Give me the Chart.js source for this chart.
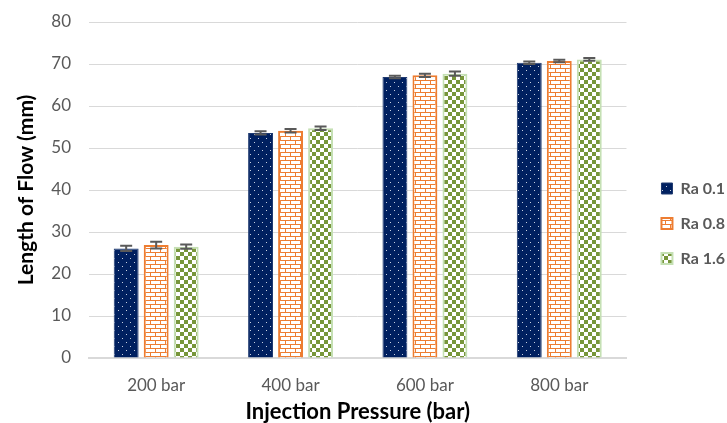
<!DOCTYPE html>
<html>
<head>
<meta charset="utf-8">
<script src="https://cdn.jsdelivr.net/npm/chart.js@4"></script>
<style>
  html, body { margin: 0; padding: 0; background: #fff; }
  #wrap { width: 727px; height: 423px; }
</style>
</head>
<body>
<div id="wrap"><canvas id="myChart"></canvas></div>
<script>
const categories = ['200 bar', '400 bar', '600 bar', '800 bar'];
const seriesNames = ['Ra 0.1', 'Ra 0.8', 'Ra 1.6'];
const ra01 = [26.1, 53.6, 66.9, 70.3];
const ra08 = [26.9, 54.1, 67.3, 70.7];
const ra16 = [26.5, 54.7, 67.7, 71.1];
const err01 = [0.6, 0.4, 0.3, 0.3];
const err08 = [0.8, 0.4, 0.4, 0.3];
const err16 = [0.5, 0.4, 0.5, 0.3];
const yTicks = [0, 10, 20, 30, 40, 50, 60, 70, 80];

const FONT = 'Lato, "Open Sans", sans-serif';

function makePattern(size, draw) {
  const c = document.createElement('canvas');
  c.width = size[0];
  c.height = size[1];
  const g = c.getContext('2d');
  draw(g);
  return g.createPattern(c, 'repeat');
}

// navy with small white dots
const dotPattern = makePattern([8, 8], g => {
  g.fillStyle = '#002060';
  g.fillRect(0, 0, 8, 8);
  g.fillStyle = '#c8d0e0';
  g.fillRect(2, 2, 1, 1);
  g.fillRect(6, 6, 1, 1);
});

// orange bricks
const brickPattern = makePattern([10, 8], g => {
  g.fillStyle = '#ffffff';
  g.fillRect(0, 0, 10, 8);
  g.fillStyle = '#ED7D31';
  g.fillRect(0, 0, 10, 1);
  g.fillRect(0, 4, 10, 1);
  g.fillRect(0, 0, 1, 4);
  g.fillRect(5, 4, 1, 4);
});

// green checker
const checkPattern = makePattern([8, 8], g => {
  g.fillStyle = '#ffffff';
  g.fillRect(0, 0, 8, 8);
  g.fillStyle = '#77963A';
  g.fillRect(0, 0, 4, 4);
  g.fillRect(4, 4, 4, 4);
});

const errorBars = {
  id: 'errorBars',
  afterDatasetsDraw(chart) {
    const ctx = chart.ctx;
    const y = chart.scales.y;
    ctx.save();
    ctx.strokeStyle = '#595959';
    ctx.lineWidth = 2;
    chart.data.datasets.forEach((ds, i) => {
      const meta = chart.getDatasetMeta(i);
      meta.data.forEach((bar, j) => {
        const v = ds.data[j], e = ds.errors[j];
        const top = y.getPixelForValue(v + e);
        const bot = y.getPixelForValue(v - e);
        ctx.beginPath();
        ctx.moveTo(bar.x, top);
        ctx.lineTo(bar.x, bot);
        ctx.moveTo(bar.x - 6, top);
        ctx.lineTo(bar.x + 6, top);
        ctx.moveTo(bar.x - 6, bot);
        ctx.lineTo(bar.x + 6, bot);
        ctx.stroke();
      });
    });
    ctx.restore();
  }
};

// nudge the legend box a little right, like the original
const legendShift = {
  id: 'legendShift',
  afterLayout(chart) {
    const lg = chart.legend;
    lg.left += 16; lg.right += 16;
  }
};

new Chart(document.getElementById('myChart'), {
  type: 'bar',
  data: {
    labels: categories,
    datasets: [
      { label: seriesNames[0], data: ra01, errors: err01, backgroundColor: dotPattern, borderColor: '#1f3a70', borderWidth: 1 },
      { label: seriesNames[1], data: ra08, errors: err08, backgroundColor: brickPattern, borderColor: '#ED7D31', borderWidth: 2 },
      { label: seriesNames[2], data: ra16, errors: err16, backgroundColor: checkPattern, borderColor: '#C5E0B4', borderWidth: 2 }
    ]
  },
  options: {
    responsive: true,
    maintainAspectRatio: false,
    animation: false,
    layout: { padding: { top: 22, right: 8, left: 0, bottom: -2 } },
    datasets: { bar: { categoryPercentage: 0.67, barPercentage: 0.83 } },
    plugins: {
      tooltip: { enabled: false },
      legend: {
        position: 'right',
        labels: {
          boxWidth: 11,
          boxHeight: 11,
          padding: 19,
          color: '#595959',
          font: { family: FONT, size: 16, weight: 'bold' }
        }
      }
    },
    scales: {
      x: {
        afterFit: s => { s.height = 67; },
        grid: { display: false, drawTicks: false },
        border: { color: '#d9d9d9', width: 2 },
        ticks: { color: '#595959', font: { family: FONT, size: 17 }, padding: 17, maxRotation: 0 },
        title: {
          display: true,
          text: 'Injection Pressure (bar)',
          color: '#000',
          font: { family: FONT, size: 22, weight: 'bold' },
          padding: { top: 4, bottom: 0 }
        }
      },
      y: {
        min: 0,
        max: 80,
        afterFit: s => { s.width = 89; s.paddingTop = 0; s.paddingBottom = 0; },
        afterBuildTicks: s => { s.ticks = yTicks.map(v => ({ value: v })); },
        grid: { color: '#d9d9d9', lineWidth: 1, drawTicks: false },
        border: { display: false },
        ticks: { color: '#595959', font: { family: FONT, size: 17 }, padding: 18 },
        title: {
          display: true,
          text: 'Length of Flow (mm)',
          color: '#000',
          font: { family: FONT, size: 21, weight: 'bold' },
          padding: { top: 14, bottom: 0 }
        }
      }
    }
  },
  plugins: [errorBars, legendShift]
});
</script>
</body>
</html>
